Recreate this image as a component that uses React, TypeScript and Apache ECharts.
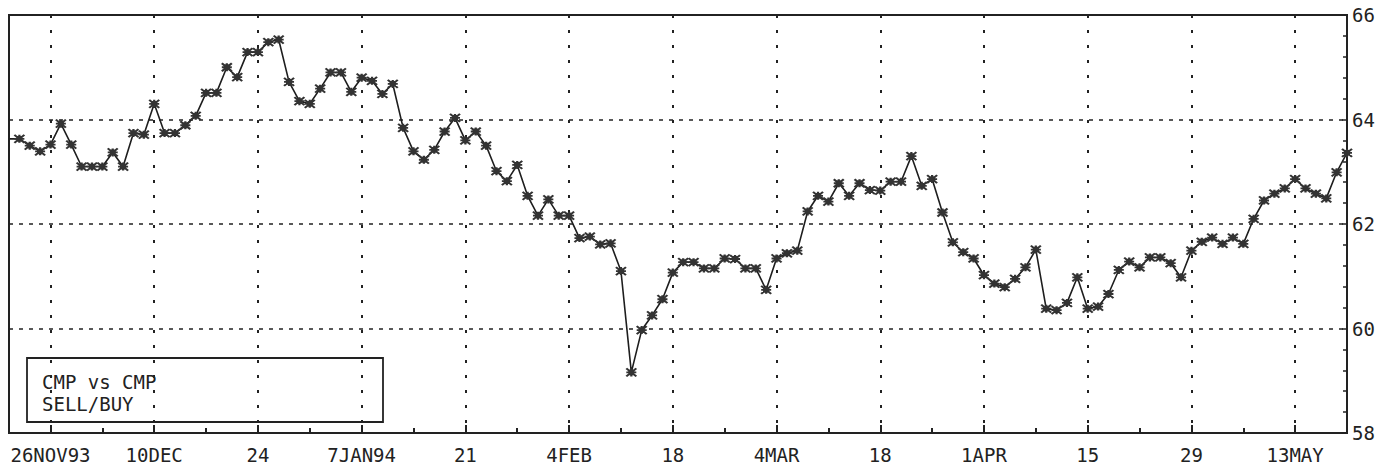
import React, { useEffect, useRef } from "react";
import * as echarts from "echarts";

// Trading-day series (weekdays from Mon 22 Nov 1993 to Fri 20 May 1994)
const startDate = "1993-11-22";
const values: number[] = [
  63.63, 63.63, 63.5, 63.39, 63.52, 63.92, 63.52, 63.1, 63.1, 63.1,
  63.37, 63.1, 63.74, 63.71, 64.3, 63.74, 63.74, 63.89, 64.07, 64.51,
  64.51, 65.0, 64.81, 65.29, 65.29, 65.48, 65.53, 64.72, 64.35, 64.3,
  64.59, 64.9, 64.9, 64.53, 64.8, 64.74, 64.49, 64.68, 63.84, 63.39,
  63.23, 63.42, 63.77, 64.03, 63.6, 63.77, 63.5, 63.01, 62.82, 63.13,
  62.54, 62.16, 62.47, 62.16, 62.16, 61.73, 61.76, 61.61, 61.63, 61.1,
  59.16, 59.97, 60.25, 60.56, 61.07, 61.27, 61.27, 61.15, 61.15, 61.34,
  61.33, 61.15, 61.15, 60.74, 61.34, 61.44, 61.49, 62.24, 62.54, 62.43,
  62.78, 62.54, 62.78, 62.65, 62.64, 62.81, 62.81, 63.3, 62.73, 62.86,
  62.22, 61.65, 61.46, 61.34, 61.02, 60.86, 60.79, 60.95, 61.17, 61.51,
  60.38, 60.35, 60.49, 60.98, 60.38, 60.42, 60.66, 61.12, 61.28, 61.17,
  61.36, 61.36, 61.25, 60.98, 61.49, 61.66, 61.74, 61.62, 61.74, 61.62,
  62.1, 62.45, 62.58, 62.68, 62.86, 62.68, 62.58, 62.49, 62.99, 63.36,
];
const tickLabels: string[] = [
  "26NOV93", "10DEC", "24", "7JAN94", "21", "4FEB", "18",
  "4MAR", "18", "1APR", "15", "29", "13MAY",
];
const firstLabelIndex = 4; // 26 Nov 1993 is the 5th weekday
const legendLines: string[] = ["CMP vs CMP", "SELL/BUY"];

function buildCategories(n: number): string[] {
  const out: string[] = [];
  const d = new Date(startDate + "T12:00:00Z");
  while (out.length < n) {
    const wd = d.getUTCDay();
    if (wd !== 0 && wd !== 6) out.push(d.toISOString().slice(0, 10));
    d.setUTCDate(d.getUTCDate() + 1);
  }
  return out;
}

const FONT = "DejaVu Sans Mono";
const INK = "#222";

export default function App() {
  const ref = useRef<HTMLDivElement>(null);
  useEffect(() => {
    if (!ref.current) return;
    const chart = echarts.init(ref.current, undefined, { renderer: "svg" });
    const categories = buildCategories(values.length);
    const isMajor = (idx: number) =>
      idx >= firstLabelIndex && (idx - firstLabelIndex) % 10 === 0;
    const isMinor = (idx: number) =>
      idx >= firstLabelIndex && (idx - firstLabelIndex) % 10 === 5;
    const data = values.map((v, i) =>
      i === 0 ? { value: v, symbol: "none" } : v
    );
    chart.setOption({
      animation: false,
      backgroundColor: "#ffffff",
      grid: {
        left: 9,
        right: 45,
        top: 15,
        bottom: 36,
        show: true,
        borderColor: INK,
        borderWidth: 2,
        backgroundColor: "transparent",
      },
      xAxis: [
        {
          type: "category",
          data: categories,
          boundaryGap: false,
          axisLine: { show: true, lineStyle: { color: INK, width: 2 } },
          axisTick: {
            show: true,
            inside: true,
            length: 8,
            interval: (idx: number) => isMajor(idx),
            lineStyle: { color: INK, width: 2 },
          },
          axisLabel: {
            show: true,
            interval: (idx: number) => isMajor(idx),
            formatter: (_v: string, idx: number) =>
              isMajor(idx) ? tickLabels[(idx - firstLabelIndex) / 10] ?? "" : "",
            fontFamily: FONT,
            fontSize: 19,
            color: INK,
            margin: 12,
          },
          splitLine: {
            show: true,
            interval: (idx: number) => isMajor(idx),
            lineStyle: { color: INK, width: 2, type: [3, 12] },
          },
        },
        {
          type: "category",
          data: categories,
          boundaryGap: false,
          position: "bottom",
          axisLine: { show: false },
          axisTick: {
            show: true,
            inside: true,
            length: 5,
            interval: (idx: number) => isMinor(idx),
            lineStyle: { color: INK, width: 2 },
          },
          axisLabel: { show: false },
          splitLine: { show: false },
        },
      ],
      yAxis: {
        type: "value",
        position: "right",
        min: 58,
        max: 66,
        interval: 2,
        axisLine: { show: true, lineStyle: { color: INK, width: 2 } },
        axisTick: { show: true, inside: true, length: 5, lineStyle: { color: INK, width: 1.5 } },
        minorTick: { show: true, splitNumber: 5, length: 4, lineStyle: { color: INK, width: 1.5 } },
        axisLabel: {
          fontFamily: FONT,
          fontSize: 19,
          color: INK,
          margin: 5,
        },
        splitLine: {
          show: true,
          lineStyle: { color: INK, width: 1.5, type: [4, 6] },
        },
      },
      series: [
        {
          type: "line",
          name: "CMP vs CMP SELL/BUY",
          data,
          xAxisIndex: 0,
          showAllSymbol: true,
          symbol: "path://M0,0L10,8M0,8L10,0M0,4L10,4M5,0L5,8M3,2L7,2L7,6L3,6Z",
          symbolSize: [10, 8],
          itemStyle: { color: "#3a3a3a", borderColor: "#333", borderWidth: 2 },
          lineStyle: { color: "#1e1e1e", width: 1.6 },
          clip: true,
          z: 5,
        },
      ],
      graphic: [
        {
          type: "group",
          z: 10,
          children: [
            {
              type: "rect",
              shape: { x: 27, y: 358, width: 356, height: 64 },
              style: { fill: "#ffffff", stroke: INK, lineWidth: 1.8 },
            },
            ...legendLines.map((t, k) => ({
              type: "text",
              x: 42,
              y: 381.5 + k * 22,
              style: {
                text: t,
                fontFamily: FONT,
                fontSize: 19,
                fill: INK,
                verticalAlign: "middle",
                align: "left",
              },
            })),
          ],
        },
      ],
    });
    return () => chart.dispose();
  }, []);
  return (
    <div
      ref={ref}
      style={{ position: "fixed", left: 0, top: 0, width: 1392, height: 469, background: "#fff" }}
    />
  );
}
